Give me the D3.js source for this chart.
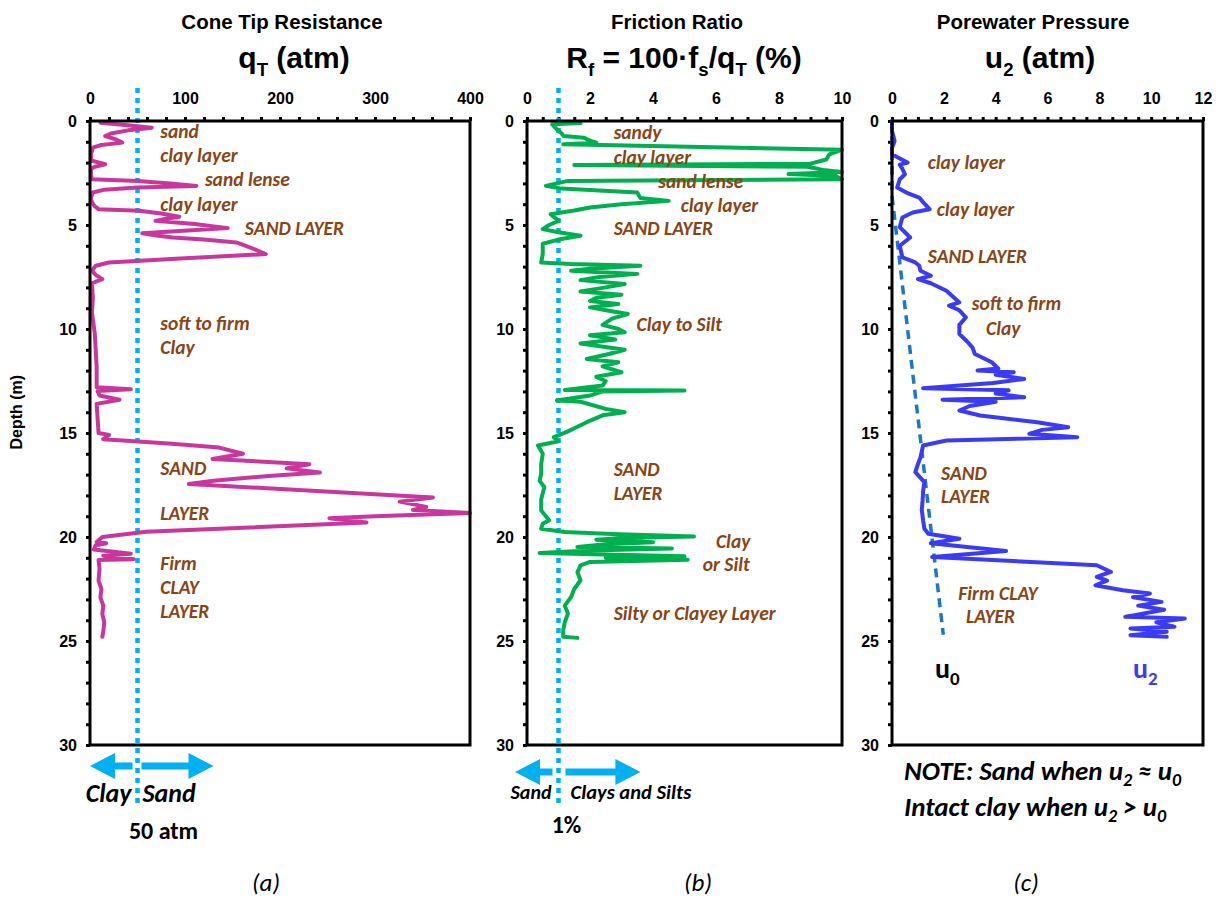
<!doctype html>
<html>
<head>
<meta charset="utf-8">
<title>CPT sounding</title>
<script src="https://d3js.org/d3.v7.min.js"></script>
<style>
  body { margin: 0; background: #fff; }
  svg text { font-family: Arial, "Liberation Sans", sans-serif; }
  .axis text { font-size: 16px; font-weight: bold; fill: #000; }
  .axis line { stroke: #000; stroke-width: 3px; }
  .axis path { display: none; }
  .note { font-family: Carlito, Lato, "Open Sans", sans-serif; font-style: italic; font-weight: bold; fill: #8a4516; font-size: 19.5px; }
  .cal { font-family: Carlito, Lato, "Open Sans", sans-serif; }
</style>
</head>
<body>
<script>

// ---- data (depth in m) ----

var qtDepth = [0.08, 0.2, 0.32, 0.45, 0.6, 0.72, 0.9, 1.04, 1.15, 1.28, 1.6, 1.9, 2.0, 2.08, 2.2, 2.3, 2.6, 2.8,
  2.88, 3.0, 3.12, 3.2, 3.3, 3.44, 3.7, 3.9, 4.1, 4.24, 4.32, 4.45, 4.6, 4.7, 4.8, 4.95, 5.15, 5.3, 5.4, 5.5,
  5.6, 5.7, 5.84, 6.0, 6.2, 6.4, 6.6, 6.8, 6.96, 7.2, 7.4, 7.6, 7.8, 8.5, 9.2, 10.2, 11.0, 11.8, 12.8, 12.9,
  12.98, 13.2, 13.4, 13.6, 14.3, 15.0, 15.1, 15.3, 15.5, 15.7, 16.0, 16.25, 16.5, 16.7, 16.9, 17.05, 17.3,
  17.45, 18.1, 18.3, 18.55, 18.7, 18.85, 19.0, 19.1, 19.3, 19.75, 20.0, 20.24, 20.3, 20.4, 20.6, 20.8, 20.9,
  21.07, 21.1, 21.5, 22.1, 22.5, 22.9, 23.3, 23.7, 24.1, 24.55, 24.8];
var qtValue = [11, 40, 65, 40, 22, 16, 28, 34, 12, 3, 1, 1, 10, 16, 5, 1, 1, 2,
  50, 85, 112, 50, 15, 3, 1, 2, 5, 9, 52, 75, 94, 80, 69, 110, 145, 90, 55, 70,
  87, 120, 154, 164, 175, 185, 100, 20, 6, 2, 6, 13, 2, 3, 2, 5, 6, 7, 7, 43,
  8, 10, 31, 7, 8, 9, 20, 14, 83, 136, 161, 129, 231, 207, 242, 192, 130,
  104, 361, 326, 354, 340, 400, 300, 252, 291, 59, 13, 7, 17, 6, 4, 43, 14,
  46, 9, 10, 9, 12, 11, 14, 13, 15, 14, 13];

var rfDepth = [0.1, 0.16, 0.4, 0.6, 0.72, 0.8, 0.95, 1.04, 1.12, 1.38, 1.6, 1.85, 2.05, 2.12, 2.2, 2.35, 2.45,
  2.55, 2.65, 2.8, 2.88, 3.12, 3.25, 3.44, 3.7, 3.84, 4.0, 4.16, 4.3, 4.48, 4.8, 5.0, 5.2, 5.35, 5.52, 5.7,
  5.9, 6.4, 6.8, 6.88, 6.96, 7.1, 7.2, 7.35, 7.5, 7.65, 7.84, 8.0, 8.2, 8.35, 8.5, 8.65, 8.8, 8.96, 9.12,
  9.28, 9.5, 9.8, 10.0, 10.16, 10.3, 10.5, 10.7, 11.0, 11.2, 11.44, 11.6, 11.8, 12.08, 12.3, 12.5, 12.72,
  12.93, 12.96, 13.0, 13.2, 13.44, 13.5, 13.84, 14.0, 14.15, 14.48, 14.7, 14.96, 15.2, 15.4, 15.6, 16.0,
  16.5, 16.96, 17.3, 17.6, 18.2, 18.72, 19.2, 19.36, 19.6, 19.76, 19.85, 19.97, 20.05, 20.13, 20.25, 20.35,
  20.48, 20.55, 20.65, 20.77, 20.85, 20.93, 21.0, 21.09, 21.2, 21.36, 21.7, 22.08, 22.5, 22.88, 23.3, 23.68,
  24.1, 24.48, 24.8, 24.85];
var rfValue = [1.7, 0.8, 0.95, 1.1, 1.16, 1.8, 2.0, 2.2, 1.15, 10, 9.6, 9.5, 9.0, 1.5, 8.9, 9.4, 10,
  8.3, 9.8, 10, 1.3, 0.6, 1.1, 3.5, 3.6, 4.5, 3.0, 2.0, 1.5, 0.75, 1.0, 0.7, 0.5, 1.0, 1.7, 1.0,
  0.5, 0.5, 0.45, 1.4, 3.6, 2.0, 1.4, 3.5, 2.3, 1.7, 3.1, 2.5, 1.7, 3.0, 2.2, 2.0, 2.9, 2.0, 2.6,
  3.2, 2.7, 2.4, 2.9, 3.1, 2.0, 2.8, 1.7, 3.1, 2.6, 1.9, 2.9, 2.4, 3.0, 2.2, 2.5, 2.4,
  1.2, 5.0, 2.4, 2.0, 0.95, 1.7, 2.5, 3.1, 2.4, 1.9, 1.6, 1.25, 0.85, 1.0, 0.35, 0.5,
  0.45, 0.45, 0.4, 0.55, 0.45, 0.45, 0.7, 0.5, 0.45, 1.2, 2.7, 5.3, 3.0, 2.2, 4.0, 2.5,
  1.6, 4.6, 2.0, 0.4, 2.8, 5.0, 2.5, 5.1, 2.0, 1.7, 1.6, 1.7, 1.5, 1.4, 1.2, 1.3,
  1.2, 1.15, 1.15, 1.6];

var u2Depth = [0.0, 0.48, 0.96, 1.3, 1.6, 1.8, 2.0, 2.1, 2.3, 2.56, 2.8, 3.2, 3.44, 3.68, 3.9, 4.24, 4.4, 4.64,
  5.1, 5.35, 5.6, 6.0, 6.56, 6.8, 6.96, 7.2, 7.44, 7.6, 7.8, 8.16, 8.5, 8.72, 8.88, 9.1, 9.44, 9.8, 10.24,
  10.6, 10.88, 11.2, 11.6, 11.9, 12.0, 12.08, 12.2, 12.4, 12.6, 12.85, 12.95, 13.1, 13.28, 13.4, 13.5, 13.7,
  13.92, 14.16, 14.48, 14.72, 14.85, 15.04, 15.2, 15.36, 15.6, 16.16, 16.5, 16.88, 17.36, 17.8, 18.24, 18.7,
  19.2, 19.6, 19.84, 20.08, 20.3, 20.67, 20.96, 21.36, 21.68, 21.92, 22.1, 22.32, 22.56, 22.72, 22.9, 23.12,
  23.3, 23.5, 23.84, 23.92, 24.1, 24.32, 24.4, 24.56, 24.72, 24.8];
var u2Value = [0.0, 0.0, 0.1, 0.0, 0.0, 0.3, 0.6, 0.3, 0.4, 0.5, 0.3, 0.2, 0.55, 1.05, 1.2, 1.45, 0.8, 0.4,
  0.3, 0.5, 0.7, 0.3, 0.4, 0.9, 1.05, 1.1, 1.5, 1.0, 1.5, 2.1, 2.4, 2.6, 2.2, 2.6, 2.85, 2.6, 2.6,
  2.9, 3.1, 3.2, 3.85, 4.1, 3.3, 4.7, 4.0, 5.1, 3.9, 1.2, 4.5, 4.0, 5.1, 1.95, 4.0, 3.0,
  2.6, 3.4, 5.6, 6.8, 5.8, 5.3, 7.15, 2.1, 1.2, 1.1, 1.0, 0.9, 1.25, 1.2, 1.18, 1.15,
  1.2, 1.25, 1.4, 2.6, 1.5, 4.4, 1.55, 7.9, 8.45, 7.9, 8.3, 7.85, 8.9, 9.95, 9.3, 10.4,
  9.5, 10.5, 9.0, 11.3, 10.2, 10.9, 9.2, 10.6, 9.2, 10.6];

// hydrostatic pore pressure
var u0Depth = [0, 3.6, 24.7];
var u0Value = [0, 0, 1.98];

// layer notes: [text, value, depth]
var notesA = [["sand", 74, 0.51], ["clay layer", 74, 1.63], ["sand lense", 121, 2.81], ["clay layer", 74, 3.99],
  ["SAND LAYER", 163, 5.14], ["soft to firm", 74, 9.71], ["Clay", 74, 10.87], ["SAND", 74, 16.68],
  ["LAYER", 74, 18.85], ["Firm", 74, 21.25], ["CLAY", 74, 22.4], ["LAYER", 74, 23.56]];
var notesB = [["sandy", 2.75, 0.56], ["clay layer", 2.75, 1.75], ["sand lense", 4.17, 2.88], ["clay layer", 4.88, 4.04],
  ["SAND LAYER", 2.75, 5.16], ["Clay to Silt", 3.48, 9.76], ["SAND", 2.75, 16.73], ["LAYER", 2.75, 17.88],
  ["Clay", 6.0, 20.18], ["or Silt", 5.58, 21.3], ["Silty or Clayey Layer", 2.75, 23.64]];
var notesC = [["clay layer", 1.38, 1.96], ["clay layer", 1.73, 4.25], ["SAND LAYER", 1.38, 6.52],
  ["soft to firm", 3.08, 8.74], ["Clay", 3.63, 9.97], ["SAND", 1.89, 16.91], ["LAYER", 1.89, 18.03],
  ["Firm CLAY", 2.56, 22.68], ["LAYER", 2.86, 23.8]];

var qtLimit = 50;   // atm, clay / sand
var rfLimit = 1;    // %, sand / clays and silts

// ---- layout ----
var width = 1223, height = 900;
var plotTop = 121, plotBottom = 745;
var brown = "#8a4516", cyan = "#00b0f0";

var svg = d3.select("body").append("svg")
  .attr("width", width)
  .attr("height", height);

var y = d3.scaleLinear().domain([0, 30]).range([plotTop, plotBottom]);

function zip(ds, vs) {
  return ds.map(function(d, i) { return {d: d, v: vs[i]}; });
}

function drawPanel(p) {
  var x = d3.scaleLinear().domain(p.domain).range([p.left, p.right]);

  // top axis, minor ticks with labels on majors
  svg.append("g")
    .attr("class", "axis")
    .attr("transform", "translate(0," + plotTop + ")")
    .call(d3.axisTop(x)
      .tickValues(d3.range(p.domain[0], p.domain[1] + p.minor / 2, p.minor))
      .tickFormat(function(d) { return Math.abs(d / p.major - Math.round(d / p.major)) < 1e-6 ? d : ""; })
      .tickSize(4).tickPadding(13).tickSizeOuter(0));

  // depth axis
  svg.append("g")
    .attr("class", "axis")
    .attr("transform", "translate(" + p.left + ",0)")
    .call(d3.axisLeft(y)
      .tickValues(d3.range(0, 31, 1))
      .tickFormat(function(d) { return d % 5 === 0 ? d : ""; })
      .tickSize(4).tickPadding(9).tickSizeOuter(0));

  return x;
}

function drawCurve(x, data, color, width, dash) {
  var line = d3.line()
    .x(function(d) { return x(d.v); })
    .y(function(d) { return y(d.d); });
  svg.append("path")
    .datum(data)
    .attr("d", line)
    .attr("fill", "none")
    .attr("stroke", color)
    .attr("stroke-width", width)
    .attr("stroke-linejoin", "round")
    .attr("stroke-linecap", dash ? "butt" : "round")
    .attr("stroke-dasharray", dash || null);
}

function drawBorder(x) {
  svg.append("rect")
    .attr("x", x.range()[0]).attr("y", plotTop)
    .attr("width", x.range()[1] - x.range()[0])
    .attr("height", plotBottom - plotTop)
    .attr("fill", "none")
    .attr("stroke", "#000")
    .attr("stroke-width", 3);
}

function drawNotes(x, notes) {
  svg.append("g").selectAll("text")
    .data(notes).enter().append("text")
    .attr("class", "note")
    .attr("x", function(d) { return x(d[1]); })
    .attr("y", function(d) { return y(d[2]); })
    .attr("dy", "0.35em")
    .text(function(d) { return d[0]; });
}

function refLine(x, v, y1) {
  svg.append("line")
    .attr("x1", x(v)).attr("x2", x(v))
    .attr("y1", 88).attr("y2", y1)
    .attr("stroke", cyan)
    .attr("stroke-width", 4.5)
    .attr("stroke-dasharray", "5,5");
}

// single arrow from x0 (tail) to x1 (tip)
function arrow(x0, x1, yy) {
  var s = x1 > x0 ? 1 : -1, head = 25, hw = 13, sw = 3.5;
  var hb = x1 - s * head;
  var pts = [[x0, yy - sw], [hb, yy - sw], [hb, yy - hw], [x1, yy], [hb, yy + hw], [hb, yy + sw], [x0, yy + sw]];
  svg.append("polygon")
    .attr("points", pts.map(function(q) { return q.join(","); }).join(" "))
    .attr("fill", cyan);
}

// title with subscripts: parts = [[text, isSub], ...]
function title(cx, yy, parts, size) {
  var t = svg.append("text")
    .attr("x", cx).attr("y", yy)
    .attr("text-anchor", "middle")
    .style("font-weight", "bold")
    .style("font-size", size + "px");
  var sub = false;
  parts.forEach(function(q) {
    var dy = 0;
    if (q[1] && !sub) dy = size * 0.25;
    if (!q[1] && sub) dy = -size * 0.25;
    sub = q[1];
    t.append("tspan")
      .attr("dy", dy)
      .style("font-size", (q[1] ? size * 0.62 : size) + "px")
      .text(q[0]);
  });
  return t;
}

// ---- panel (a) cone tip resistance ----
var xA = drawPanel({domain: [0, 400], left: 90, right: 470, minor: 20, major: 100});
refLine(xA, qtLimit, 806);
drawCurve(xA, zip(qtDepth, qtValue), "#c9379d", 4);
drawBorder(xA);
drawNotes(xA, notesA);

// ---- panel (b) friction ratio ----
var xB = drawPanel({domain: [0, 10], left: 527, right: 842, minor: 0.5, major: 2});
refLine(xB, rfLimit, 806);
drawCurve(xB, zip(rfDepth, rfValue), "#00b050", 4);
drawBorder(xB);
drawNotes(xB, notesB);

// ---- panel (c) pore pressure ----
var xC = drawPanel({domain: [0, 12], left: 892, right: 1203, minor: 0.5, major: 2});
drawCurve(xC, zip(u0Depth, u0Value), "#1e78c8", 3.5, "9,6");
drawCurve(xC, zip(u2Depth, u2Value), "#3b3bf7", 4);
drawBorder(xC);
drawNotes(xC, notesC);

// u0 / u2 labels
[["u", "0", 1.66, "#000"], ["u", "2", 9.3, "#3b3bf7"]].forEach(function(q) {
  var t = svg.append("text").attr("class", "cal")
    .attr("x", xC(q[2])).attr("y", y(26.3)).attr("dy", "0.35em")
    .style("font-weight", "bold").style("font-size", "28px").attr("fill", q[3]);
  t.append("tspan").text(q[0]);
  t.append("tspan").attr("dy", 7).style("font-size", "19px").text(q[1]);
});

// ---- titles ----
svg.append("text").attr("x", 282).attr("y", 29).attr("text-anchor", "middle")
  .style("font-weight", "bold").style("font-size", "20.5px").text("Cone Tip Resistance");
svg.append("text").attr("x", 677).attr("y", 29).attr("text-anchor", "middle")
  .style("font-weight", "bold").style("font-size", "20.5px").text("Friction Ratio");
svg.append("text").attr("x", 1033).attr("y", 29).attr("text-anchor", "middle")
  .style("font-weight", "bold").style("font-size", "20.5px").text("Porewater Pressure");

title(294, 68, [["q", false], ["T", true], [" (atm)", false]], 30);
title(684, 68, [["R", false], ["f", true], [" = 100\u00b7f", false], ["s", true], ["/q", false], ["T", true], [" (%)", false]], 30);
title(1040, 68, [["u", false], ["2", true], [" (atm)", false]], 30);

svg.append("text")
  .attr("transform", "translate(22," + y(14) + ") rotate(-90)")
  .attr("text-anchor", "middle")
  .style("font-weight", "bold").style("font-size", "16px")
  .text("Depth (m)");

// ---- bottom keys ----
arrow(xA(qtLimit) - 5, xA(0), 766);
arrow(xA(qtLimit) + 4, xA(130), 766);
arrow(xB(rfLimit) - 6, xB(-0.38), 772);
arrow(xB(rfLimit) + 7, xB(3.6), 772);

function keyText(x0, yy, txt, size, bold, italic, anchor) {
  svg.append("text").attr("class", "cal")
    .attr("x", x0).attr("y", yy)
    .attr("text-anchor", anchor || "start")
    .style("font-size", size + "px")
    .style("font-weight", bold ? "bold" : "normal")
    .style("font-style", italic ? "italic" : "normal")
    .text(txt);
}

keyText(xA(qtLimit) - 6, 802, "Clay", 26, true, true, "end");
keyText(xA(qtLimit) + 5, 802, "Sand", 26, true, true);
keyText(xA(qtLimit) + 26, 839, "50 atm", 24, true, false, "middle");
keyText(xB(rfLimit) - 7, 799, "Sand", 20, true, true, "end");
keyText(xB(rfLimit) + 12, 799, "Clays and Silts", 20.5, true, true);
keyText(xB(rfLimit) + 8, 833, "1%", 24, true, false, "middle");

// note under panel (c)
function noteLine(yy, parts) {
  var t = svg.append("text").attr("class", "cal")
    .attr("x", 904).attr("y", yy)
    .style("font-size", "27px").style("font-weight", "bold").style("font-style", "italic");
  var sub = false;
  parts.forEach(function(q) {
    var dy = 0;
    if (q[1] && !sub) dy = 6;
    if (!q[1] && sub) dy = -6;
    sub = q[1];
    t.append("tspan").attr("dy", dy).style("font-size", q[1] ? "18px" : "27px").text(q[0]);
  });
}
noteLine(780, [["NOTE: Sand when u", false], ["2", true], [" \u2248 u", false], ["0", true]]);
noteLine(816, [["Intact clay when u", false], ["2", true], [" > u", false], ["0", true]]);

keyText(266, 891, "(a)", 25, false, true, "middle");
keyText(698, 891, "(b)", 25, false, true, "middle");
keyText(1026, 891, "(c)", 25, false, true, "middle");

</script>
</body>
</html>
